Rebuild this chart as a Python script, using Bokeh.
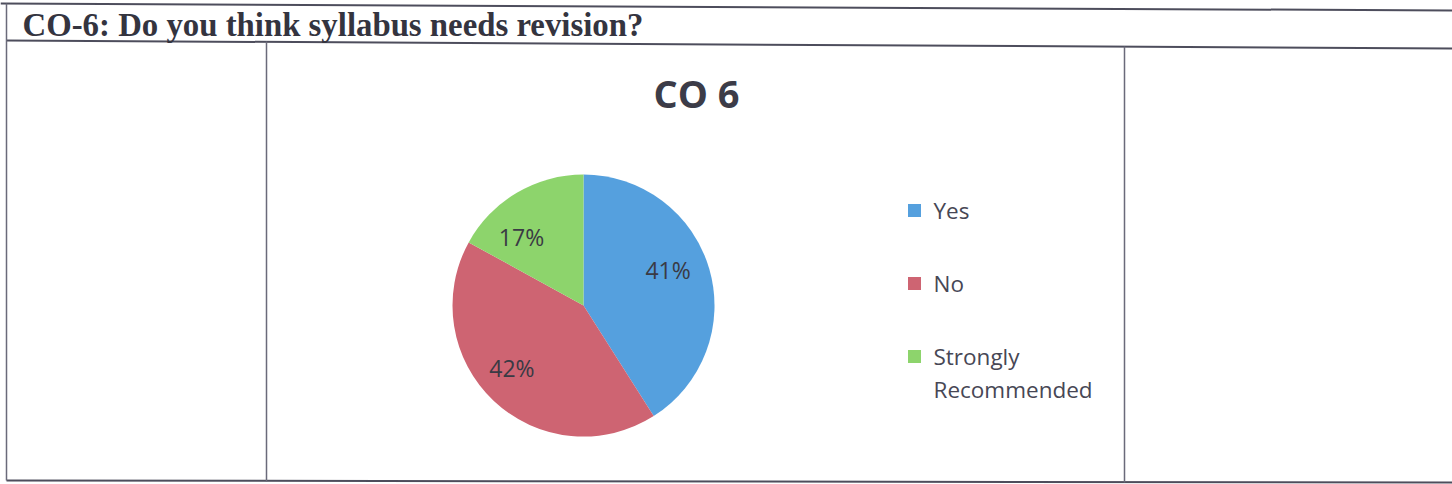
import math
from bokeh.plotting import figure
from bokeh.models import Range1d
from bokeh.core.properties import value
from bokeh.embed import file_html
from bokeh.resources import INLINE

# ---- data ----
categories = ["Yes", "No", "Strongly Recommended"]
percents = [41, 42, 17]
colors = ["#55A0DE", "#CE6472", "#8DD46C"]
legend_lines = [["Yes"], ["No"], ["Strongly", "Recommended"]]
header_text = "CO-6: Do you think syllabus needs revision?"
chart_title = "CO 6"

W, H = 1452, 484

def Y(ypix):
    return H - ypix

p = figure(width=W, height=H, output_backend="svg", toolbar_location=None,
           x_range=Range1d(0, W), y_range=Range1d(0, H), min_border=0)
p.axis.visible = False
p.grid.visible = False
p.outline_line_color = None
p.background_fill_color = "white"
p.border_fill_color = "white"

# ---- table borders (slightly skewed like the scan) ----
line_col = "#4d4d5c"
p.line([0, W], [Y(3), Y(10)], line_color=line_col, line_width=2)
p.line([6, W], [Y(40), Y(48)], line_color=line_col, line_width=2)
p.line([6, W], [Y(480), Y(482)], line_color=line_col, line_width=2)
p.line([6, 6], [Y(3), Y(480)], line_color="#6a6a7a", line_width=1.5)
p.line([266, 266], [Y(41), Y(481)], line_color="#6a6a7a", line_width=1.5)
p.line([1124, 1124], [Y(46), Y(482)], line_color="#6a6a7a", line_width=1.5)

# header text
p.text(x=[22], y=[Y(24)], text=[header_text], text_font=value("Liberation Serif"),
       text_font_style="bold", text_font_size="32.8px", text_color="#34343f",
       text_baseline="middle", text_align="left")

# chart title
p.text(x=[696], y=[Y(92)], text=[chart_title], text_font=value("Open Sans"),
       text_font_style="bold", text_font_size="38px", text_color="#3c3c48",
       text_baseline="middle", text_align="center")

# ---- pie ----
cx, cy, R = 583, Y(305), 131
total = sum(percents)
starts, ends, mids = [], [], []
cum = 0.0
for v in percents:
    a0 = math.pi / 2 - 2 * math.pi * cum / total
    cum += v
    a1 = math.pi / 2 - 2 * math.pi * cum / total
    starts.append(a0)
    ends.append(a1)
    mids.append((a0 + a1) / 2)

p.wedge(x=[cx] * 3, y=[cy] * 3, radius=R, start_angle=starts, end_angle=ends,
        direction="clock", fill_color=colors, line_color=None)

# data labels (best-fit nudges)
label_nudge = [(-6, 9), (-7, 6), (-14, -13)]
lx, ly, lt = [], [], []
for m, v, (dx, dy) in zip(mids, percents, label_nudge):
    r = 0.72 * R
    lx.append(cx + r * math.cos(m) + dx)
    ly.append(cy + r * math.sin(m) + dy)
    lt.append(f"{v}%")
p.text(x=lx, y=ly, text=lt, text_font=value("Open Sans"), text_font_size="23px",
       text_color="#3a3a44", text_baseline="middle", text_align="center")

# ---- legend ----
leg_x, leg_y0, leg_step, line_step = 914, 210, 73, 33
for i, (c, lines) in enumerate(zip(colors, legend_lines)):
    yc = leg_y0 + i * leg_step
    p.rect(x=[leg_x], y=[Y(yc)], width=13, height=13, fill_color=c, line_color=None)
    for j, t in enumerate(lines):
        p.text(x=[leg_x + 19], y=[Y(yc + j * line_step)], text=[t],
               text_font=value("Open Sans"), text_font_size="22.5px",
               text_color="#474755", text_baseline="middle", text_align="left")

open("out.html", "w").write(file_html(p, INLINE))
